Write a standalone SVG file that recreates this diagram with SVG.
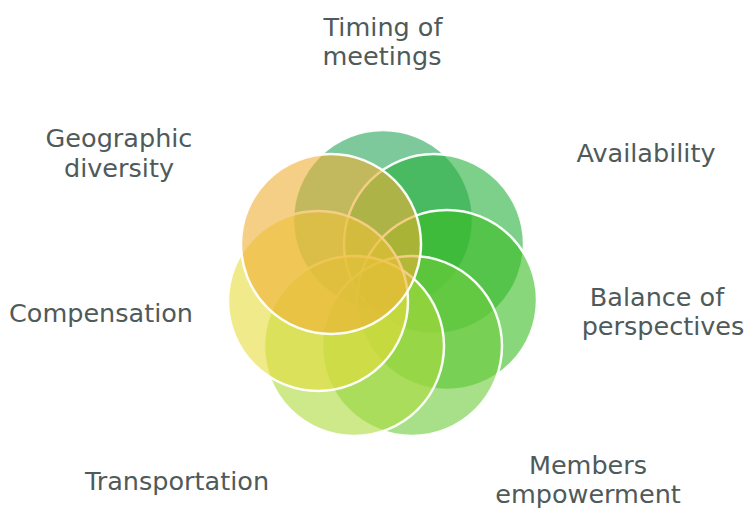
<svg xmlns="http://www.w3.org/2000/svg" width="749" height="510" viewBox="0 0 749 510">
  <style>
    .petal { stroke: #ffffff; stroke-width: 2.5; fill-opacity: 0.6; stroke-opacity: 0.95; }
    .label { font-family: "DejaVu Sans", "Liberation Sans", sans-serif; font-size: 25.5px; fill: #4f5a5a; text-anchor: middle; }
  </style>
  <rect width="749" height="510" fill="#ffffff"/>

  <!-- seven overlapping circles arranged in a ring, drawn clockwise from the top -->
  <g id="timing-of-meetings">
    <circle class="petal" cx="383" cy="220" r="90" fill="#28a55a"/>
  </g>
  <g id="availability">
    <circle class="petal" cx="434" cy="244" r="90" fill="#26b13c"/>
  </g>
  <g id="balance-of-perspectives">
    <circle class="petal" cx="447" cy="300" r="90" fill="#39bc21"/>
  </g>
  <g id="members-empowerment">
    <circle class="petal" cx="412" cy="346" r="90" fill="#6ecb3c"/>
  </g>
  <g id="transportation">
    <circle class="petal" cx="354" cy="346" r="90" fill="#acda3c"/>
  </g>
  <g id="compensation">
    <circle class="petal" cx="318" cy="301" r="90" fill="#e6dc3c"/>
  </g>
  <g id="geographic-diversity">
    <circle class="petal" cx="331" cy="244" r="90" fill="#f0af35"/>
  </g>

  <!-- labels -->
  <g id="labels">
    <text class="label" x="383" y="36">Timing of</text>
    <text class="label" x="382" y="65">meetings</text>
    <text class="label" x="646" y="162">Availability</text>
    <text class="label" x="657" y="306">Balance of</text>
    <text class="label" x="663" y="335">perspectives</text>
    <text class="label" x="588" y="474">Members</text>
    <text class="label" x="588" y="503">empowerment</text>
    <text class="label" x="177" y="490">Transportation</text>
    <text class="label" x="101" y="322">Compensation</text>
    <text class="label" x="119" y="147">Geographic</text>
    <text class="label" x="119" y="177">diversity</text>
  </g>
  <g id="connectors"/>
</svg>
